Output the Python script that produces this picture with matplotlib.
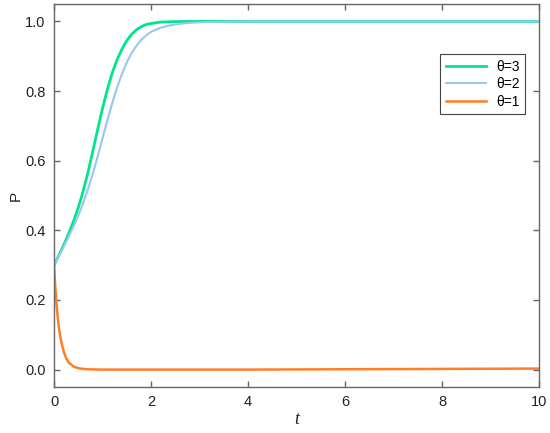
import matplotlib
matplotlib.use("Agg")
import matplotlib.pyplot as plt

t3 = [0, 0.1, 0.2, 0.3, 0.4, 0.5, 0.6, 0.7, 0.8, 0.9, 1.0, 1.1, 1.2, 1.3, 1.4, 1.5,
      1.6, 1.7, 1.8, 1.9, 2.0, 2.2, 2.5, 3.0, 4.0, 6.0, 8.0, 10.0]
p3 = [0.3, 0.328, 0.358, 0.39, 0.425, 0.465, 0.512, 0.566, 0.627, 0.69, 0.75, 0.805,
      0.852, 0.89, 0.92, 0.945, 0.963, 0.976, 0.985, 0.991, 0.994, 0.998, 0.9995, 1.0,
      1.0, 1.0, 1.0, 1.0]

t2 = [0, 0.1, 0.2, 0.3, 0.4, 0.5, 0.6, 0.7, 0.8, 0.9, 1.0, 1.1, 1.2, 1.3, 1.4, 1.5,
      1.6, 1.7, 1.8, 1.9, 2.0, 2.2, 2.4, 2.6, 2.8, 3.0, 3.5, 4.0, 6.0, 8.0, 10.0]
p2 = [0.3, 0.326, 0.353, 0.381, 0.41, 0.442, 0.478, 0.518, 0.563, 0.612, 0.664, 0.716,
      0.765, 0.81, 0.849, 0.882, 0.909, 0.93, 0.947, 0.96, 0.97, 0.982, 0.989, 0.993,
      0.996, 0.9975, 0.9993, 1.0, 1.0, 1.0, 1.0]

t1 = [0, 0.025, 0.05, 0.075, 0.1, 0.125, 0.15, 0.2, 0.25, 0.3, 0.4, 0.5, 0.6, 0.7,
      0.8, 1.0, 2.0, 4.0, 6.0, 8.0, 10.0]
p1 = [0.3, 0.24, 0.192, 0.152, 0.122, 0.098, 0.08, 0.052, 0.033, 0.021, 0.009, 0.004,
      0.002, 0.001, 0.0005, 0.0, 0.0, 0.0, 0.001, 0.002, 0.003]

labels = ["θ=3", "θ=2", "θ=1"]
colors = ["#00e68c", "#96c8f0", "#ff7f27"]

plt.rcParams['font.family'] = ['Liberation Sans', 'DejaVu Sans']

fig = plt.figure(figsize=(5.5, 4.33), dpi=100)
ax = fig.add_axes([0.0982, 0.1062, 0.8818, 0.8846])

ax.plot(t3, p3, color=colors[0], lw=2.0, label=labels[0])
ax.plot(t2, p2, color=colors[1], lw=1.5, label=labels[1])
ax.plot(t1, p1, color=colors[2], lw=1.8, label=labels[2])

ax.set_xlim(0, 10)
ax.set_ylim(-0.05, 1.05)
ax.set_xticks([0, 2, 4, 6, 8, 10])
ax.set_xticklabels(["0", "2", "4", "6", "8", "10"])
ax.set_yticks([0, 0.2, 0.4, 0.6, 0.8, 1.0])
ax.set_yticklabels(["0.0", "0.2", "0.4", "0.6", "0.8", "1.0"])

spine_c = "#666666"
for s in ax.spines.values():
    s.set_color(spine_c)
    s.set_linewidth(1.0)
ax.tick_params(direction='in', top=True, right=True, length=4, width=1.0,
               color=spine_c, labelsize=10.5, labelcolor="#222222", pad=6)

ax.set_xlabel("t", fontfamily='Liberation Serif', fontstyle='italic', fontsize=13,
              color="#222222", labelpad=1)
ax.set_ylabel("P", fontsize=11, color="#222222", labelpad=2)

leg = ax.legend(loc='upper right', bbox_to_anchor=(0.971, 0.869), fontsize=10,
                frameon=True, fancybox=False, handlelength=2.9, handletextpad=0.7,
                borderpad=0.4, labelspacing=0.25, borderaxespad=0, framealpha=1)
leg.get_frame().set_edgecolor("#444444")
leg.get_frame().set_linewidth(0.8)

fig.savefig("out.png", dpi=100)
